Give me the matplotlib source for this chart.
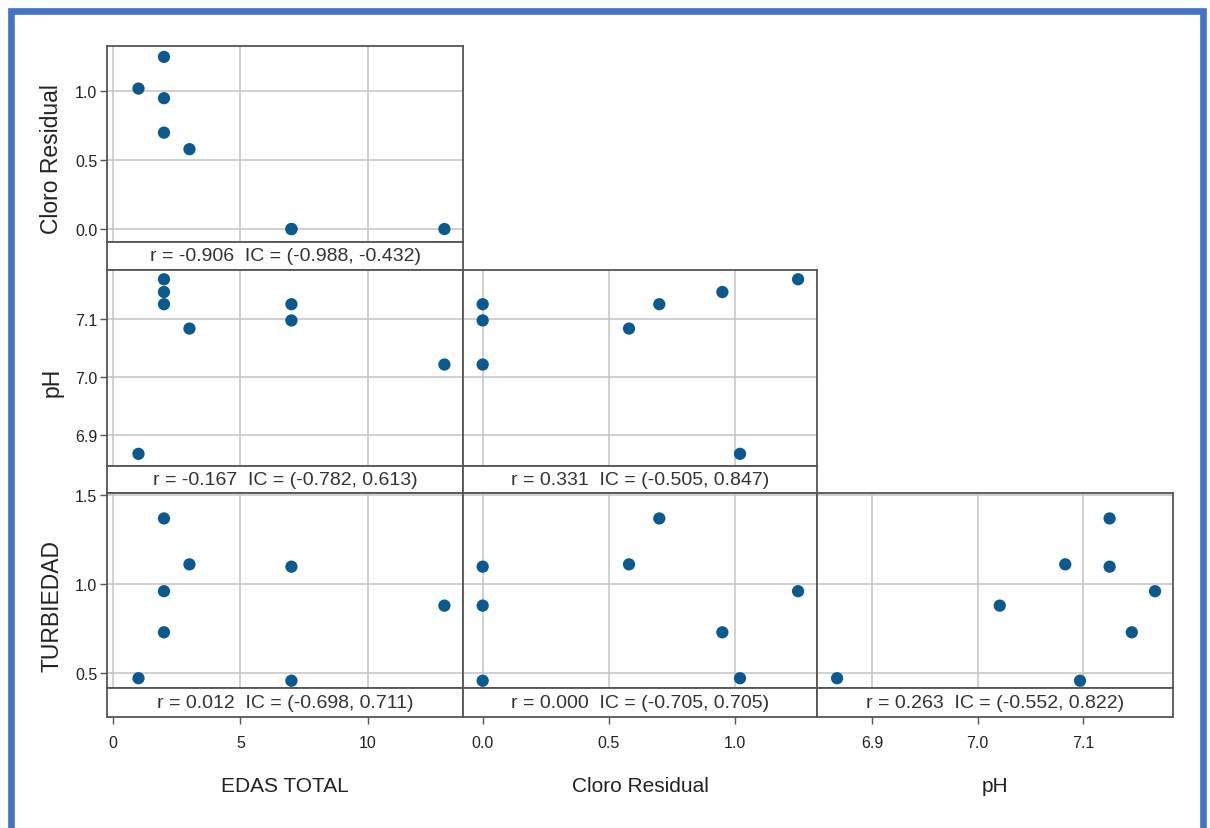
import numpy as np
import matplotlib.pyplot as plt
from matplotlib import font_manager
from matplotlib.patches import Rectangle

# Observations (n = 8)
edas = [1, 2, 2, 2, 3, 7, 7, 13]
cloro = [1.02, 1.25, 0.95, 0.70, 0.58, 0.00, 0.00, 0.00]
ph = [6.867, 7.168, 7.146, 7.125, 7.083, 7.125, 7.097, 7.021]
turbiedad = [0.469, 0.958, 0.727, 1.367, 1.109, 1.096, 0.455, 0.877]

x_vars = [edas, cloro, ph]
y_vars = [cloro, ph, turbiedad]
x_names = ["EDAS TOTAL", "Cloro Residual", "pH"]
y_names = ["Cloro Residual", "pH", "TURBIEDAD"]

x_ticks = [[0, 5, 10], [0.0, 0.5, 1.0], [6.9, 7.0, 7.1]]
x_ticklabels = [["0", "5", "10"], ["0.0", "0.5", "1.0"], ["6.9", "7.0", "7.1"]]
y_ticks = [[0.0, 0.5, 1.0], [6.9, 7.0, 7.1], [0.5, 1.0, 1.5]]
y_ticklabels = [["0.0", "0.5", "1.0"], ["6.9", "7.0", "7.1"], ["0.5", "1.0", "1.5"]]

# Pearson r and confidence interval for each (row, col) cell
r_labels = {
    (0, 0): "r = -0.906  IC = (-0.988, -0.432)",
    (1, 0): "r = -0.167  IC = (-0.782, 0.613)",
    (1, 1): "r = 0.331  IC = (-0.505, 0.847)",
    (2, 0): "r = 0.012  IC = (-0.698, 0.711)",
    (2, 1): "r = 0.000  IC = (-0.705, 0.705)",
    (2, 2): "r = 0.263  IC = (-0.552, 0.822)",
}

x_lims = [(-0.235, 13.73), (-0.078, 1.325), (6.848, 7.185)]
y_lims = [(-0.094, 1.329), (6.846, 7.184), (0.414, 1.51)]

# font: narrow sans if available
names = {f.name for f in font_manager.fontManager.ttflist}
font = "Liberation Sans Narrow" if "Liberation Sans Narrow" in names else "Liberation Sans"
plt.rcParams["font.family"] = [font, "DejaVu Sans"]

W, H = 1210, 829
fig = plt.figure(figsize=(W / 100, H / 100), dpi=100)

# panel geometry in pixels
col_edges = [(107, 463), (463, 817), (817, 1173)]
plot_rows = [(47, 243), (271, 467), (494, 689)]
strip_rows = [(243, 271), (467, 494), (689, 718)]

frame_color = "#555555"
grid_color = "#c4c4c4"
dot_color = "#0a5a8f"


def px_axes(x0, x1, y0, y1):
    return fig.add_axes([x0 / W, 1 - y1 / H, (x1 - x0) / W, (y1 - y0) / H])


for i in range(3):
    for j in range(i + 1):
        x0, x1 = col_edges[j]
        ax = px_axes(x0, x1, *plot_rows[i])
        ax.scatter(x_vars[j], y_vars[i], s=78, color=dot_color, zorder=3,
                   edgecolors="none")
        ax.set_xlim(x_lims[j])
        ax.set_ylim(y_lims[i])
        ax.set_xticks(x_ticks[j])
        ax.set_yticks(y_ticks[i])
        ax.grid(True, color=grid_color, lw=1.1)
        ax.set_axisbelow(True)
        ax.tick_params(axis="x", length=0, labelbottom=False)
        if j == 0:
            ax.set_yticklabels(y_ticklabels[i])
            ax.tick_params(axis="y", direction="out", length=5, width=1,
                           color=frame_color, labelsize=11.5, pad=2,
                           labelcolor="#222222")
        else:
            ax.tick_params(axis="y", length=0, labelleft=False)
        for s in ax.spines.values():
            s.set_color(frame_color)
            s.set_linewidth(1.3)

        # strip with r and interval
        sx = px_axes(x0, x1, *strip_rows[i])
        sx.set_xlim(x_lims[j])
        sx.set_ylim(0, 1)
        sx.set_yticks([])
        sx.text(0.5, 0.5, r_labels[(i, j)], transform=sx.transAxes,
                ha="center", va="center", fontsize=14, color="#333333")
        if i == 2:
            sx.set_xticks(x_ticks[j])
            sx.set_xticklabels(x_ticklabels[j])
            sx.tick_params(axis="x", direction="out", length=5, width=1,
                           color=frame_color, labelsize=11.5, pad=8,
                           labelcolor="#222222")
        else:
            sx.set_xticks([])
        for s in sx.spines.values():
            s.set_color(frame_color)
            s.set_linewidth(1.3)

# axis titles
for j in range(3):
    x0, x1 = col_edges[j]
    fig.text((x0 + x1) / 2 / W, 1 - 787 / H, x_names[j], ha="center",
             va="center", fontsize=15, color="#222222")
for i in range(3):
    y0 = plot_rows[i][0]
    y1 = strip_rows[i][1]
    fig.text(52 / W, 1 - (y0 + y1) / 2 / H, y_names[i], rotation=90,
             ha="center", va="center", fontsize=16.5, color="#222222")

# blue frame around the figure (open at the bottom)
fig.add_artist(Rectangle((11.5 / W, -0.05), (1203 - 11.5) / W, (H - 11.5) / H + 0.05,
                         transform=fig.transFigure, fill=False,
                         edgecolor="#4472c4", lw=4.8))

fig.savefig("out.png", dpi=100)
